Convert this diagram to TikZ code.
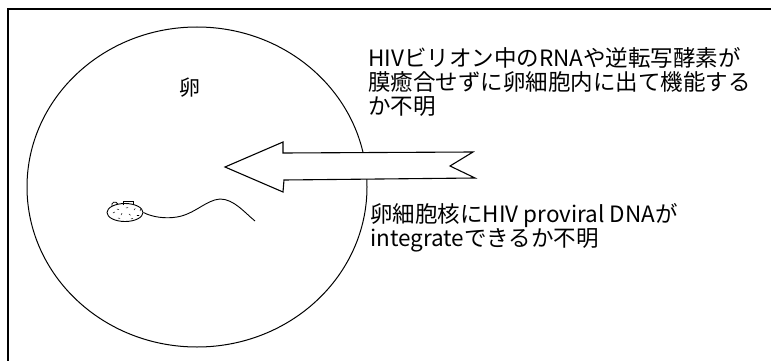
\documentclass[tikz,border=0pt]{standalone}
\usepackage{fontspec}
\usetikzlibrary{shapes.geometric}
\newfontfamily\jp{Noto Sans CJK JP}
\begin{document}
\begin{tikzpicture}[x=1pt,y=-1pt,
  notetext/.style={font=\jp\fontsize{22.5}{24}\selectfont, inner sep=0pt, anchor=base west, align=left},
  outline/.style={draw=black, line width=1pt},
  frameline/.style={draw=black, line width=1.6pt},
  bigarrow/.style={draw=black, fill=white, line width=1.1pt, line join=miter},
  speck/.style={line width=0.5pt, line cap=round}]
\useasboundingbox (0,0) rectangle (771,361);
\fill[white] (0,0) rectangle (771,361);

% frame: top and left edges
\coordinate (ftl) at (8,9);
\coordinate (ftr) at (771,9);
\coordinate (fbl) at (8,361);
\draw[frameline] (ftr) -- (ftl) -- (fbl);

% the egg
\node[outline, ellipse, minimum width=340pt, minimum height=320pt, inner sep=0pt] (egg) at (197,187) {};
\node[font=\jp\fontsize{21}{24}\selectfont, inner sep=0pt] (egglabel) at (190,88) {卵};

% block arrow entering the egg
\draw[bigarrow] (225,167) -- (283,142) -- (283,153) -- (473,152)
  -- (450,166) -- (475,178) -- (284,180) -- (283,192) -- cycle;

% sperm: head, cap, tail
\node[outline, ellipse, minimum width=36pt, minimum height=18pt, inner sep=0pt, line width=0.9pt] (head) at (125,212.5) {};
\draw[line width=0.9pt] (123,205) -- (123,201) -- (133,201) -- (133,205);
\draw[line width=0.8pt] (112,206) arc[start angle=200, end angle=20, radius=3pt];
\foreach \p/\a in {{(113,213)}/30,{(117,209)}/-20,{(121,215)}/60,{(126,208)}/10,{(129,214)}/-40,{(134,210)}/50,{(137,215)}/0,{(118,218)}/-10,{(131,219)}/20,{(140,211)}/70}
  \draw[speck] \p -- ++(\a:2pt);
\draw[line width=0.9pt] (head.east) .. controls (152,217) and (165,219) .. (177,217)
  .. controls (195,214) and (206,200) .. (220,199)
  .. controls (234,199) and (245,213) .. (255,221);

% annotations (anchored at the baseline of the last line)
\node[notetext] (q1) at (368,114) {HIVビリオン中のRNAや逆転写酵素が\\膜癒合せずに卵細胞内に出て機能する\\か不明};
\node[notetext] (q2) at (370,246) {卵細胞核にHIV proviral DNAが\\integrateできるか不明};
\end{tikzpicture}
\end{document}
